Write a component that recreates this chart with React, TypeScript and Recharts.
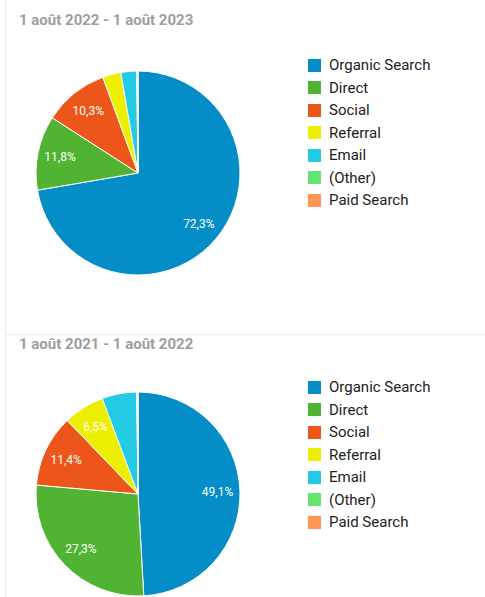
import React from 'react';
import { PieChart, Pie, Cell, Legend } from 'recharts';

const categories = ['Organic Search', 'Direct', 'Social', 'Referral', 'Email', '(Other)', 'Paid Search'];
const colors = ['#058dc7', '#50b432', '#ed561b', '#edef00', '#24cbe5', '#64e572', '#ff9655'];
const share2023 = [72.3, 11.8, 10.3, 2.9, 2.5, 0.15, 0.05];
const share2022 = [49.1, 27.3, 11.4, 6.5, 5.5, 0.15, 0.05];
const periods = ['1 août 2022 - 1 août 2023', '1 août 2021 - 1 août 2022'];

const RADIAN = Math.PI / 180;
const FONT = 'Roboto, "Noto Sans", sans-serif';

const renderLabel = ({ cx, cy, midAngle, outerRadius, value }: any) => {
  if (value < 6) return null;
  const r = outerRadius * 0.78;
  const x = cx + r * Math.cos(-midAngle * RADIAN);
  const y = cy + r * Math.sin(-midAngle * RADIAN);
  return (
    <text x={x} y={y} fill="#fff" fontSize={12} fontFamily={FONT} textAnchor="middle" dominantBaseline="central">
      {value.toFixed(1).replace('.', ',')}%
    </text>
  );
};

const LegendList = () => (
  <div style={{ fontFamily: FONT, fontSize: 15, color: '#222' }}>
    {categories.map((c, i) => (
      <div key={c} style={{ display: 'flex', alignItems: 'center', height: 22.5 }}>
        <span style={{ width: 13, height: 13, background: colors[i], marginRight: 8, display: 'inline-block' }} />
        <span>{c}</span>
      </div>
    ))}
  </div>
);

const Panel = ({ title, values, height, cy, titleTop, legendTop }: any) => {
  const data = categories.map((name, i) => ({ name, value: values[i] }));
  return (
    <div style={{ position: 'relative', width: 485, height }}>
      <div
        style={{
          position: 'absolute', left: 19, top: titleTop, fontFamily: FONT, fontWeight: 700,
          fontSize: 15, color: '#9e9e9e', whiteSpace: 'nowrap',
        }}
      >
        {title}
      </div>
      <PieChart width={485} height={height} margin={{ top: 0, right: 0, bottom: 0, left: 0 }}>
        <Pie
          data={data}
          dataKey="value"
          nameKey="name"
          cx={138}
          cy={cy}
          outerRadius={102}
          startAngle={90}
          endAngle={-270}
          stroke="#fff"
          strokeWidth={1}
          label={renderLabel}
          labelLine={false}
          isAnimationActive={false}
        >
          {data.map((d, i) => (
            <Cell key={d.name} fill={colors[i]} />
          ))}
        </Pie>
        <Legend content={<LegendList />} wrapperStyle={{ left: 308, top: legendTop, width: 170 }} />
      </PieChart>
    </div>
  );
};

export default function App() {
  return (
    <div style={{ position: 'absolute', left: 0, top: 0, width: 485, height: 597, background: '#fff', overflow: 'hidden' }}>
      <div style={{ position: 'absolute', left: 5, top: 0, width: 1, height: 597, background: '#ececec' }} />
      <div style={{ position: 'absolute', left: 5, top: 334, width: 480, height: 1, background: '#ececec' }} />
      <div style={{ position: 'absolute', left: 0, top: 0 }}>
        <Panel title={periods[0]} values={share2023} height={334} cy={173} titleTop={11} legendTop={54} />
      </div>
      <div style={{ position: 'absolute', left: 0, top: 335 }}>
        <Panel title={periods[1]} values={share2022} height={262} cy={159} titleTop={0} legendTop={41} />
      </div>
    </div>
  );
}
